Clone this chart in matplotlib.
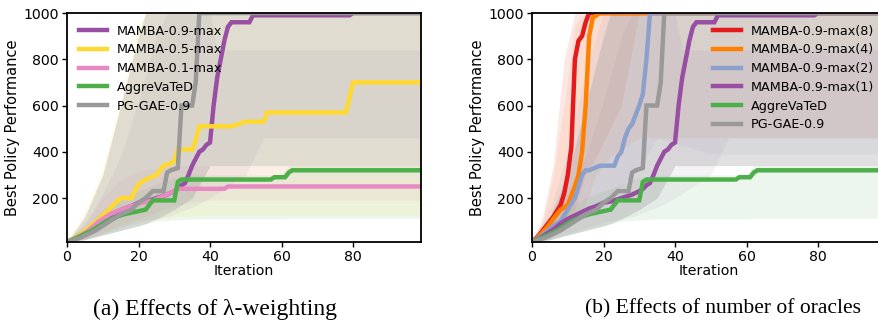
import numpy as np
import matplotlib
matplotlib.use("Agg")
import matplotlib.pyplot as plt

# step-like curves (iteration, best policy performance)
m9_x = [0, 2, 4, 6, 8, 10, 12, 14, 16, 18, 20, 22, 24, 26, 28, 30, 31, 32, 33, 34, 35, 36, 37, 38, 39, 40,
        41, 42, 43, 44, 45, 46, 51, 52, 79, 80, 99]
m9_y = [10, 25, 45, 65, 90, 110, 125, 140, 155, 165, 180, 185, 195, 205, 215, 230, 240, 255, 265, 300, 340,
        370, 400, 410, 430, 440, 600, 720, 800, 880, 940, 960, 960, 990, 990, 1000, 1000]
m9_bx = [0, 5, 10, 15, 20, 25, 28, 30, 35, 40, 42, 45, 50, 55, 99]
m9_lo = [10, 20, 45, 70, 95, 110, 120, 130, 160, 200, 220, 250, 300, 460, 460]
m9_hi = [10, 90, 220, 380, 620, 900, 1000, 1000, 1000, 1000, 840, 840, 840, 840, 840]

m5_x = [0, 3, 6, 9, 11, 13, 15, 18, 19, 20, 22, 25, 27, 29, 30, 31, 35, 36, 37, 38, 46, 48, 50, 55, 56, 78,
        80, 99]
m5_y = [10, 35, 70, 110, 140, 170, 200, 200, 230, 260, 280, 300, 340, 350, 360, 410, 410, 450, 510, 510,
        510, 520, 530, 530, 570, 570, 700, 700]
m5_bx = [0, 5, 10, 15, 20, 22, 25, 30, 40, 99]
m5_lo = [10, 25, 55, 85, 100, 105, 110, 120, 126, 126]
m5_hi = [10, 140, 330, 620, 950, 1000, 1000, 1000, 1000, 1000]

m1_x = [0, 3, 6, 9, 12, 15, 18, 21, 24, 27, 30, 31, 44, 45, 99]
m1_y = [10, 30, 60, 100, 130, 150, 165, 180, 190, 210, 230, 240, 240, 250, 250]
m1_bx = [0, 5, 10, 15, 20, 25, 30, 40, 99]
m1_lo = [10, 20, 50, 80, 110, 140, 170, 191, 191]
m1_hi = [10, 90, 200, 280, 320, 330, 340, 340, 340]

ag_x = [0, 3, 7, 11, 14, 16, 19, 22, 23, 24, 30, 31, 32, 57, 58, 61, 62, 63, 99]
ag_y = [10, 30, 60, 100, 120, 130, 140, 150, 170, 190, 190, 270, 280, 280, 290, 290, 310, 320, 320]
ag_bx = [0, 5, 10, 15, 20, 25, 30, 35, 60, 62, 99]
ag_lo = [10, 20, 40, 60, 80, 100, 105, 110, 110, 113, 113]
ag_hi = [10, 70, 150, 200, 230, 260, 290, 300, 300, 340, 340]

pg_x = [0, 4, 8, 12, 15, 18, 20, 22, 24, 27, 28, 29, 31, 32, 35, 36, 37, 99]
pg_y = [10, 30, 60, 100, 130, 150, 180, 200, 230, 230, 310, 320, 330, 600, 600, 700, 1000, 1000]
pg_bx = [0, 5, 10, 15, 20, 22, 25, 30, 35, 40, 99]
pg_lo = [10, 20, 40, 60, 80, 90, 110, 150, 200, 340, 340]
pg_hi = [10, 120, 300, 600, 900, 1000, 1000, 1000, 1000, 1000, 1000]

r8_x = [0, 2, 4, 6, 8, 9, 10, 11, 12, 13, 14, 15, 16, 99]
r8_y = [10, 40, 80, 120, 170, 220, 300, 420, 800, 880, 900, 960, 1000, 1000]
r8_bx = [0, 3, 6, 9, 12, 15, 18, 25, 30, 99]
r8_lo = [10, 20, 50, 90, 150, 300, 380, 600, 1000, 1000]
r8_hi = [10, 120, 350, 800, 1000, 1000, 1000, 1000, 1000, 1000]

r4_x = [0, 2, 4, 6, 8, 10, 12, 13, 14, 15, 16, 17, 19, 99]
r4_y = [10, 35, 70, 110, 150, 170, 250, 300, 400, 600, 900, 980, 1000, 1000]
r4_bx = [0, 3, 6, 9, 12, 15, 18, 22, 30, 99]
r4_lo = [10, 20, 40, 70, 110, 180, 300, 380, 460, 460]
r4_hi = [10, 100, 300, 600, 950, 1000, 1000, 1000, 1000, 1000]

r2_x = [0, 3, 6, 8, 10, 12, 14, 15, 16, 19, 23, 24, 25, 26, 27, 28, 29, 30, 31, 32, 33, 99]
r2_y = [10, 40, 80, 100, 150, 200, 300, 320, 320, 340, 340, 380, 400, 460, 500, 520, 560, 600, 650, 800,
        1000, 1000]
r2_bx = [0, 5, 10, 15, 20, 25, 30, 35, 50, 99]
r2_lo = [10, 30, 70, 120, 180, 250, 330, 460, 390, 390]
r2_hi = [10, 150, 400, 750, 1000, 1000, 1000, 1000, 1000, 1000]

panel_a = [
    ("MAMBA-0.9-max", "#984ea3", m9_x, m9_y, m9_bx, m9_lo, m9_hi),
    ("MAMBA-0.5-max", "#ffd92f", m5_x, m5_y, m5_bx, m5_lo, m5_hi),
    ("MAMBA-0.1-max", "#e78ac3", m1_x, m1_y, m1_bx, m1_lo, m1_hi),
    ("AggreVaTeD", "#4daf4a", ag_x, ag_y, ag_bx, ag_lo, ag_hi),
    ("PG-GAE-0.9", "#999999", pg_x, pg_y, pg_bx, pg_lo, pg_hi),
]
panel_b = [
    ("MAMBA-0.9-max(8)", "#e41a1c", r8_x, r8_y, r8_bx, r8_lo, r8_hi),
    ("MAMBA-0.9-max(4)", "#ff7f00", r4_x, r4_y, r4_bx, r4_lo, r4_hi),
    ("MAMBA-0.9-max(2)", "#8da0cb", r2_x, r2_y, r2_bx, r2_lo, r2_hi),
    ("MAMBA-0.9-max(1)", "#984ea3", m9_x, m9_y, m9_bx, m9_lo, m9_hi),
    ("AggreVaTeD", "#4daf4a", ag_x, ag_y, ag_bx, ag_lo, ag_hi),
    ("PG-GAE-0.9", "#999999", pg_x, pg_y, pg_bx, pg_lo, pg_hi),
]
captions = ["(a) Effects of \u03bb-weighting", "(b) Effects of number of oracles"]

fig = plt.figure(figsize=(8.79, 3.27), dpi=100)
ax_a = fig.add_axes([67 / 879, 85 / 327, 354 / 879, 229 / 327])
ax_b = fig.add_axes([532 / 879, 85 / 327, 354 / 879, 229 / 327])

for ax, series, loc in [(ax_a, panel_a, "upper left"), (ax_b, panel_b, "upper right")]:
    for name, col, x, y, bx, lo, hi in series:
        a = 0.3 if col == "#999999" else (0.08 if col == "#984ea3" else 0.1)
        ax.fill_between(bx, lo, hi, color=col, alpha=a, linewidth=0)
    for name, col, x, y, bx, lo, hi in series:
        ax.plot(x, y, color=col, lw=3.2, label=name, solid_joinstyle="miter")
    ax.set_xlim(0, 99)
    ax.set_ylim(10, 1000)
    ax.set_xticks([0, 20, 40, 60, 80])
    ax.set_yticks([200, 400, 600, 800, 1000])
    ax.tick_params(labelsize=10.2, length=3.5, width=1, pad=2.5)
    for s in ax.spines.values():
        s.set_linewidth(1.3)
    ax.set_xlabel("Iteration", fontsize=10.2, labelpad=0)
    ax.set_ylabel("Best Policy Performance", fontsize=10.5, labelpad=2)
    ax.legend(loc=loc, fontsize=9.2, frameon=False, handlelength=2.2, labelspacing=0.45)

fig.text(215 / 879, 1 - 309 / 327, captions[0], ha="center", va="center",
         family="Liberation Serif", fontsize=17)
fig.text(723 / 879, 1 - 309 / 327, captions[1], ha="center", va="center",
         family="Liberation Serif", fontsize=15.5)

fig.savefig("out.png", dpi=100)
